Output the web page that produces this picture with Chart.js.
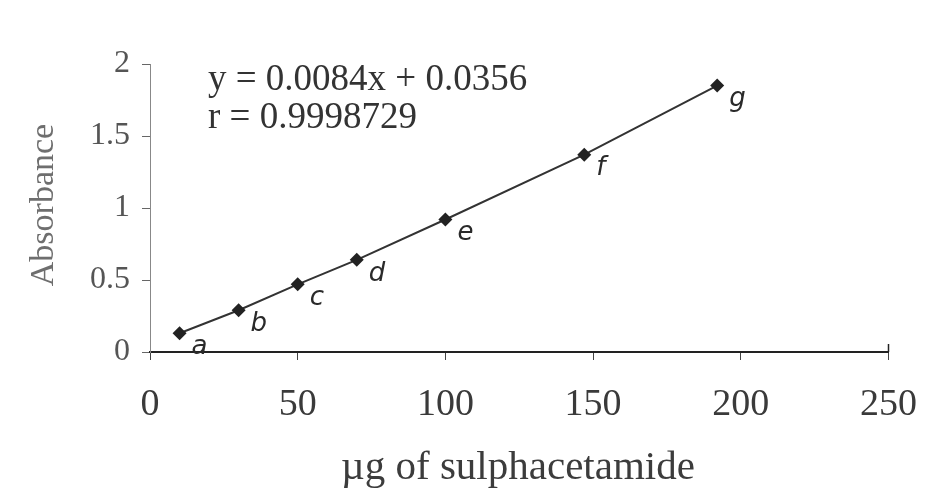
<!DOCTYPE html>
<html>
<head>
<meta charset="utf-8">
<script src="https://cdn.jsdelivr.net/npm/chart.js@4.4.1/dist/chart.umd.min.js"></script>
<style>
  html, body { margin: 0; padding: 0; background: #ffffff; }
  #wrap { width: 939px; height: 504px; position: relative; }
</style>
</head>
<body>
<div id="wrap"><canvas id="c" width="939" height="504"></canvas></div>
<script>
// ---- data ----
const pointLabels = ['a', 'b', 'c', 'd', 'e', 'f', 'g'];
const micrograms = [10, 30, 50, 70, 100, 147, 192];
const absorbance = [0.13, 0.29, 0.47, 0.64, 0.92, 1.37, 1.85];
const xTicks = [0, 50, 100, 150, 200, 250];
const yTicks = [0, 0.5, 1, 1.5, 2];
const xTitle = 'µg of sulphacetamide';
const yTitle = 'Absorbance';
const equationLines = ['y = 0.0084x + 0.0356', 'r = 0.9998729'];

const points = micrograms.map((x, i) => ({ x: x, y: absorbance[i] }));

const textPlugin = {
  id: 'texts',
  afterDraw(chart) {
    const ctx = chart.ctx;
    const xs = chart.scales.x, ys = chart.scales.y;
    const area = chart.chartArea;
    ctx.save();
    // end cap at the right of the x axis
    ctx.strokeStyle = '#222222';
    ctx.lineWidth = 1.5;
    ctx.beginPath();
    ctx.moveTo(area.right, area.bottom);
    ctx.lineTo(area.right, area.bottom - 8);
    ctx.stroke();
    // equation
    ctx.fillStyle = '#333333';
    ctx.font = '37px "Liberation Serif", "Times New Roman", serif';
    ctx.textAlign = 'left';
    ctx.textBaseline = 'middle';
    ctx.fillText(equationLines[0], 208, 80);
    ctx.fillText(equationLines[1], 208, 118);
    // point letters
    ctx.font = 'italic 26px "DejaVu Sans", sans-serif';
    ctx.fillStyle = '#2a2a2a';
    pointLabels.forEach((lab, i) => {
      const px = xs.getPixelForValue(micrograms[i]);
      const py = ys.getPixelForValue(absorbance[i]);
      ctx.fillText(lab, px + 12, py + 14);
    });
    // axis titles
    ctx.fillStyle = '#3c3c3c';
    ctx.font = '41px "Liberation Serif", "Times New Roman", serif';
    ctx.textAlign = 'center';
    ctx.fillText(xTitle, 518, 468);
    ctx.save();
    ctx.translate(44, 205);
    ctx.rotate(-Math.PI / 2);
    ctx.fillStyle = '#6e6e6e';
    ctx.font = '34px "Liberation Serif", "Times New Roman", serif';
    ctx.fillText(yTitle, 0, 0);
    ctx.restore();
    ctx.restore();
  }
};

new Chart(document.getElementById('c'), {
  type: 'scatter',
  data: {
    datasets: [{
      data: points,
      showLine: true,
      borderColor: '#333333',
      borderWidth: 2,
      backgroundColor: '#222222',
      pointStyle: 'rectRot',
      pointRadius: 7,
      pointBorderWidth: 0,
      pointBackgroundColor: '#222222'
    }]
  },
  options: {
    responsive: false,
    animation: false,
    layout: { padding: { left: 0, right: 49, top: 64, bottom: 0 } },
    plugins: { legend: { display: false }, tooltip: { enabled: false } },
    scales: {
      x: {
        type: 'linear',
        min: 0, max: 250,
        afterBuildTicks: (s) => { s.ticks = xTicks.map(v => ({ value: v })); },
        afterFit: (s) => { s.height = 152; },
        grid: { drawOnChartArea: false, drawTicks: true, tickLength: 8, color: '#444444', lineWidth: 1 },
        border: { display: true, color: '#222222', width: 2 },
        ticks: {
          padding: 22,
          color: '#3a3a3a',
          maxRotation: 0,
          font: { family: '"Liberation Serif", "Times New Roman", serif', size: 38 }
        }
      },
      y: {
        type: 'linear',
        min: 0, max: 2,
        afterBuildTicks: (s) => { s.ticks = yTicks.map(v => ({ value: v })); },
        afterFit: (s) => { s.width = 150; },
        grid: { drawOnChartArea: false, drawTicks: true, tickLength: 8, color: '#666666', lineWidth: 1 },
        border: { display: true, color: '#888888', width: 1, dash: [4, 3] },
        ticks: {
          padding: 12,
          color: '#555555',
          font: { family: '"Liberation Serif", "Times New Roman", serif', size: 32 },
          callback: (v) => String(v)
        }
      }
    }
  },
  plugins: [textPlugin]
});
</script>
</body>
</html>
